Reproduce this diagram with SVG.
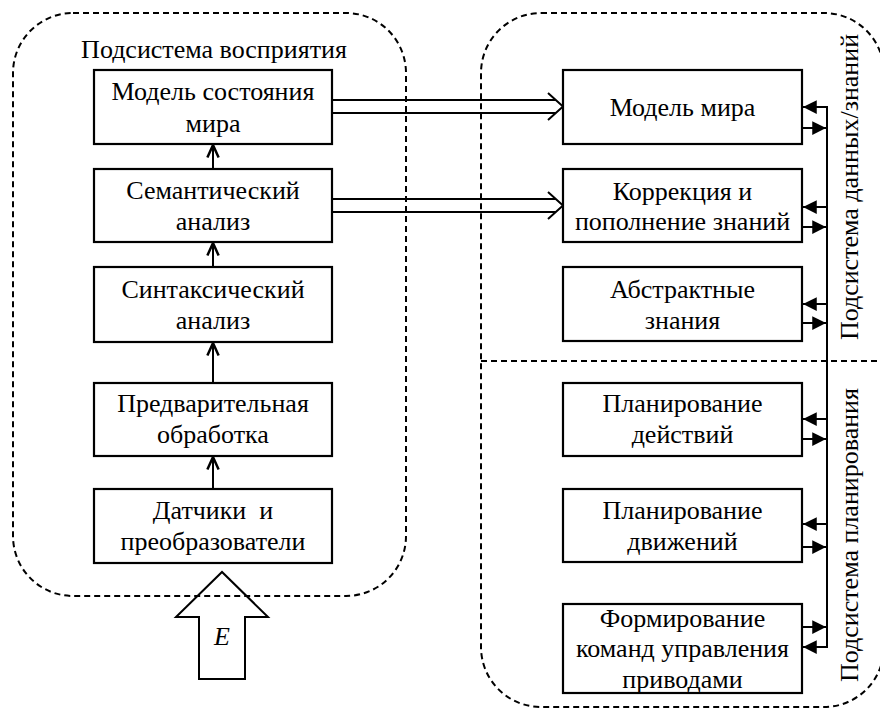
<svg xmlns="http://www.w3.org/2000/svg" width="880" height="709" viewBox="0 0 880 709">
<style>
text{font-family:'Liberation Serif',serif;font-size:26px;fill:#000;text-anchor:middle;white-space:pre}
.box{fill:#fff;stroke:#000;stroke-width:2.2}
.cont{fill:none;stroke:#000;stroke-width:2;stroke-dasharray:6 4}
.ln{fill:none;stroke:#000;stroke-width:2}
.hol{fill:none;stroke:#000;stroke-width:2;stroke-linejoin:miter}
</style>
<defs>
<marker id="open" markerUnits="userSpaceOnUse" markerWidth="20" markerHeight="20" viewBox="-12 -8 14 16" refX="0" refY="0" orient="auto" overflow="visible">
<path d="M-10,-4.5 L0,0 L-10,4.5" fill="none" stroke="#000" stroke-width="2"/>
</marker>
<marker id="fill" markerUnits="userSpaceOnUse" markerWidth="20" markerHeight="20" viewBox="-12 -8 14 16" refX="0" refY="0" orient="auto" overflow="visible">
<path d="M0,0 L-11,-5.5 L-11,5.5 Z" fill="#000"/>
</marker>
</defs>
<rect width="880" height="709" fill="#fff"/>

<g id="containers" font-family="Liberation Serif">
<rect class="cont" x="13" y="13" width="393" height="583" rx="60" ry="60"/>
<rect class="cont" x="481" y="13" width="403" height="694" rx="60" ry="60"/>
<line class="cont" x1="481" y1="361" x2="880" y2="361"/>
<text x="214" y="58">Подсистема восприятия</text>
<text transform="translate(858,187) rotate(-90)">Подсистема данных/знаний</text>
<text transform="translate(858,535) rotate(-90)">Подсистема планирования</text>
</g>

<g id="connectors" font-family="Liberation Serif">
<line class="ln" x1="213" y1="169" x2="213" y2="145" marker-end="url(#open)"/>
<line class="ln" x1="213" y1="267" x2="213" y2="243" marker-end="url(#open)"/>
<line class="ln" x1="213" y1="383" x2="213" y2="343" marker-end="url(#open)"/>
<line class="ln" x1="213" y1="489" x2="213" y2="457" marker-end="url(#open)"/>
<path class="hol" d="M333,100 H555.5 M548,93 L563,106.5 L548,120 M333,113 H555.5"/>
<path class="hol" d="M333,199 H555.5 M548,192 L563,205.5 L548,219 M333,212 H555.5"/>
<path class="hol" d="M199,679 V617 H176 L222,572 L268,617 H245 V679 Z"/>
<line class="ln" x1="827" y1="106" x2="827" y2="648"/>
<line class="ln" x1="827" y1="107" x2="803" y2="107" marker-end="url(#fill)"/>
<line class="ln" x1="802" y1="128" x2="826" y2="128" marker-end="url(#fill)"/>
<line class="ln" x1="827" y1="207" x2="803" y2="207" marker-end="url(#fill)"/>
<line class="ln" x1="802" y1="227" x2="826" y2="227" marker-end="url(#fill)"/>
<line class="ln" x1="827" y1="304" x2="803" y2="304" marker-end="url(#fill)"/>
<line class="ln" x1="802" y1="323" x2="826" y2="323" marker-end="url(#fill)"/>
<line class="ln" x1="827" y1="419" x2="803" y2="419" marker-end="url(#fill)"/>
<line class="ln" x1="802" y1="439" x2="826" y2="439" marker-end="url(#fill)"/>
<line class="ln" x1="827" y1="524" x2="803" y2="524" marker-end="url(#fill)"/>
<line class="ln" x1="802" y1="547" x2="826" y2="547" marker-end="url(#fill)"/>
<line class="ln" x1="802" y1="627" x2="826" y2="627" marker-end="url(#fill)"/>
<line class="ln" x1="827" y1="647" x2="803" y2="647" marker-end="url(#fill)"/>
<text x="222" y="645" style="font-style:italic">E</text>
</g>

<g id="n-model-state"><rect class="box" x="94" y="70" width="238" height="74"/><text x="213" y="100">Модель состояния</text><text x="213" y="132">мира</text></g>
<g id="n-semantic"><rect class="box" x="94" y="169" width="238" height="73"/><text x="213" y="199">Семантический</text><text x="213" y="230">анализ</text></g>
<g id="n-syntax"><rect class="box" x="94" y="267" width="238" height="75"/><text x="213" y="298">Синтаксический</text><text x="213" y="329">анализ</text></g>
<g id="n-preproc"><rect class="box" x="94" y="383" width="238" height="73"/><text x="213" y="412">Предварительная</text><text x="213" y="443">обработка</text></g>
<g id="n-sensors"><rect class="box" x="94" y="489" width="238" height="74"/><text x="213" y="519">Датчики  и</text><text x="213" y="550">преобразователи</text></g>

<g id="n-world"><rect class="box" x="563" y="70" width="239" height="74"/><text x="682.5" y="116">Модель мира</text></g>
<g id="n-correction"><rect class="box" x="563" y="169" width="239" height="73"/><text x="682.5" y="200">Коррекция и</text><text x="682.5" y="230">пополнение знаний</text></g>
<g id="n-abstract"><rect class="box" x="563" y="267" width="239" height="74"/><text x="682.5" y="298">Абстрактные</text><text x="682.5" y="329">знания</text></g>
<g id="n-actions"><rect class="box" x="563" y="383" width="239" height="73"/><text x="682.5" y="412">Планирование</text><text x="682.5" y="443">действий</text></g>
<g id="n-motions"><rect class="box" x="563" y="489" width="239" height="73"/><text x="682.5" y="519">Планирование</text><text x="682.5" y="550">движений</text></g>
<g id="n-commands"><rect class="box" x="563" y="604" width="239" height="89"/><text x="682.5" y="627">Формирование</text><text x="682.5" y="657">команд управления</text><text x="682.5" y="688">приводами</text></g>
</svg>
